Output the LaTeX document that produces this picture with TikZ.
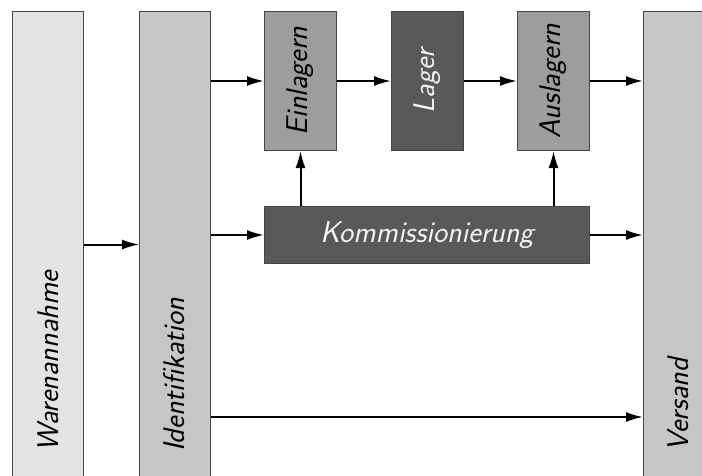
\documentclass[tikz,border=0pt]{standalone}
\usepackage{fontspec}
\usetikzlibrary{arrows.meta}
\definecolor{fillA}{HTML}{E3E3E3}
\definecolor{fillB}{HTML}{C6C6C6}
\definecolor{fillC}{HTML}{9D9D9D}
\definecolor{fillD}{HTML}{595959}
\definecolor{edge}{HTML}{454545}
\definecolor{lighttext}{HTML}{F2F2F2}
\begin{document}
\begin{tikzpicture}[x=1pt,y=-1pt,
  box/.style={draw=edge, line width=1pt, inner sep=0pt, anchor=north west},
  tall/.style={box, minimum width=71pt, minimum height=466pt},
  small/.style={box, minimum width=72pt, minimum height=139pt},
  lbl/.style={font=\sffamily\slshape\fontsize{30}{36}\selectfont, inner sep=0pt},
  vlbl/.style={lbl, rotate=90},
  flow/.style={line width=2pt, -{Latex[length=17pt,width=10pt]}}
]
\useasboundingbox (0,0) rectangle (702,475);
\clip (0,0) rectangle (702,475);

% tall stage columns
\node[tall, fill=fillA] (wa)  at (12,11)  {};
\node[tall, fill=fillB] (id)  at (139,11) {};
\node[tall, fill=fillB] (ver) at (643,11) {};
\node[vlbl, anchor=west] at (48,452)  {Warenannahme};
\node[vlbl, anchor=west] at (174,452) {Identifikation};
\node[vlbl, anchor=west] at (678,452) {Versand};

% storage row
\node[small, fill=fillC] (ein) at (264,11) {};
\node[small, fill=fillD] (lag) at (391,11) {};
\node[small, fill=fillC] (aus) at (517,11) {};
\node[vlbl] at (ein) {Einlagern};
\node[vlbl, text=lighttext] at (lag) {Lager};
\node[vlbl] at (aus) {Auslagern};

% picking
\node[box, fill=fillD, minimum width=325pt, minimum height=57pt,
      lbl, inner sep=0pt, text=lighttext] (kom) at (264,206) {Kommissionierung};

\coordinate (direct) at (0,417);

% material flow
\draw[flow] (wa.east) -- (id.west);
\draw[flow] (id.east |- ein.west) -- (ein.west);
\draw[flow] (ein.east) -- (lag.west);
\draw[flow] (lag.east) -- (aus.west);
\draw[flow] (aus.east) -- (aus.east -| ver.west);
\draw[flow] (id.east |- kom.west) -- (kom.west);
\draw[flow] (kom.east) -- (kom.east -| ver.west);
\draw[flow] (kom.north -| ein.south) -- (ein.south);
\draw[flow] (kom.north -| aus.south) -- (aus.south);
\draw[flow] (id.east |- direct) -- (ver.west |- direct);
\end{tikzpicture}
\end{document}
